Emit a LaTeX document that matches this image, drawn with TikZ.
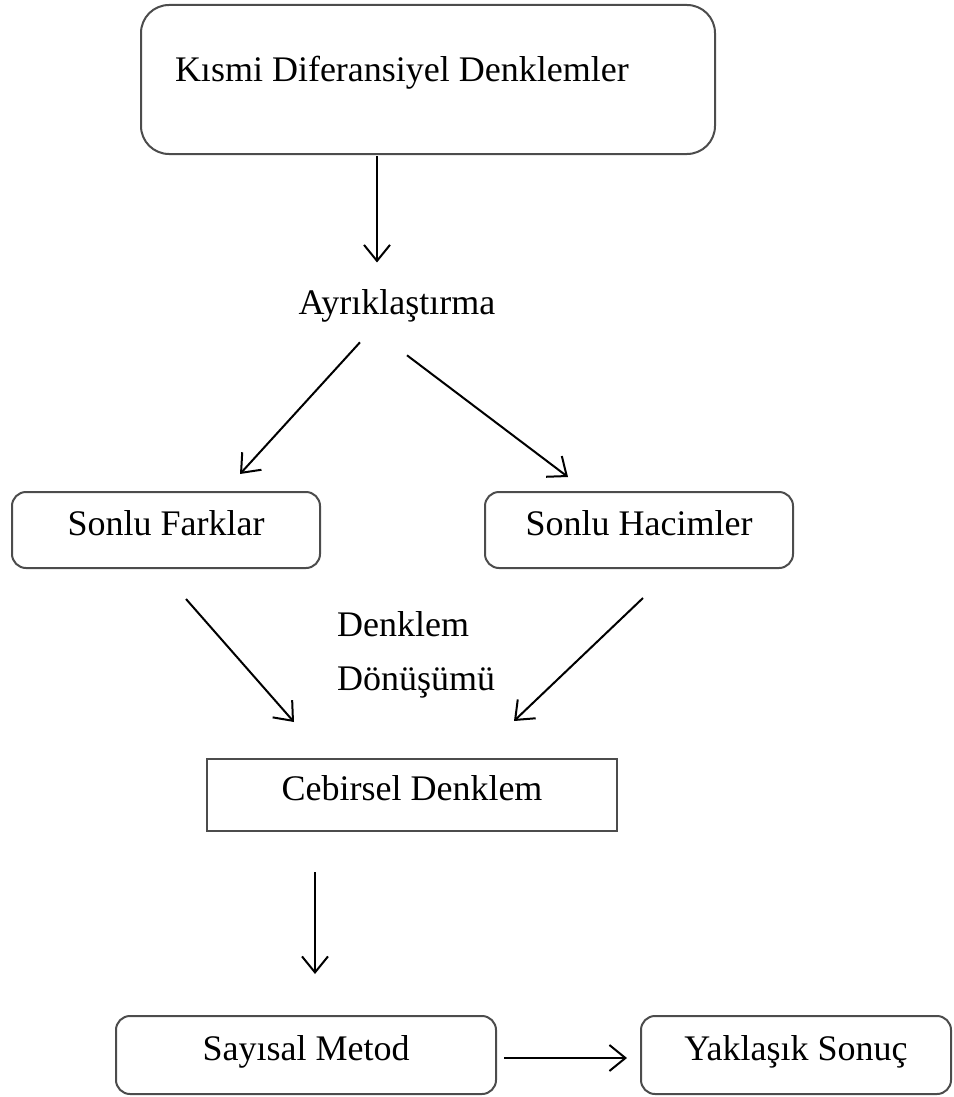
\documentclass[tikz,border=0pt]{standalone}
\usepackage{fontspec}
\setmainfont{Liberation Serif}
\usetikzlibrary{arrows.meta,calc}

\begin{document}
\begin{tikzpicture}[x=1pt, y=-1pt, font=\fontsize{36}{54}\selectfont,
	kutu/.style={draw=black!70, line width=2pt, inner sep=0pt, text height=25pt, text depth=15pt},
	yuvarlak/.style={kutu, rounded corners=14pt},
	ok/.style={line width=2pt, -{Straight Barb[length=16pt,width=26pt]}}]
	\useasboundingbox (0,0) rectangle (953,1097);
	% boxes
	\node[kutu, rounded corners=28pt, minimum width=574pt, minimum height=149pt, text depth=20pt] (kde) at (428,79.5) {\makebox[506pt][l]{Kısmi Diferansiyel Denklemler}};
	\node[anchor=base] (ayr) at (397,314) {Ayrıklaştırma};
	\node[yuvarlak, minimum width=308pt, minimum height=76pt] (farklar) at (166,530) {Sonlu Farklar};
	\node[yuvarlak, minimum width=308pt, minimum height=76pt] (hacimler) at (639,530) {Sonlu Hacimler};
	\node[anchor=west, align=left, inner sep=0pt] (donusum) at (337,655) {Denklem\\Dönüşümü};
	\node[kutu, minimum width=410pt, minimum height=72pt] (cebirsel) at (412,795) {Cebirsel Denklem};
	\node[yuvarlak, minimum width=380pt, minimum height=78pt] (sayisal) at (306,1055) {Sayısal Metod};
	\node[yuvarlak, minimum width=310pt, minimum height=78pt] (yaklasik) at (796,1055) {Yaklaşık Sonuç};
	% arrows
	\draw[ok] ($(kde.south)+(-51,1)$) -- ($(ayr.north)+(-20,-23)$);
	\draw[ok] ($(ayr.south)+(-37,17)$) -- ($(farklar.north)+(74,-17)$);
	\draw[ok] ($(ayr.south)+(10,30)$) -- ($(hacimler.north)+(-71,-14)$);
	\draw[ok] ($(farklar.south)+(20,30)$) -- ($(cebirsel.north)+(-118,-36)$);
	\draw[ok] ($(hacimler.south)+(4,29)$) -- ($(cebirsel.north)+(102,-37)$);
	\draw[ok] ($(cebirsel.south)+(-97,40)$) -- ($(sayisal.north)+(9,-41)$);
	\draw[ok] ($(sayisal.east)+(7,3)$) -- ($(yaklasik.west)+(-13,3)$);
\end{tikzpicture}
\end{document}
